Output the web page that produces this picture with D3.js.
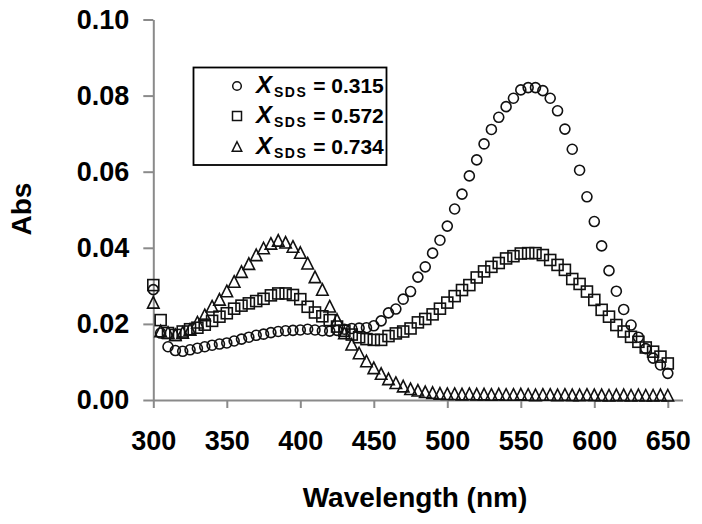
<!DOCTYPE html>
<html><head><meta charset="utf-8">
<script src="https://cdn.jsdelivr.net/npm/d3@7"></script>
<style>body{margin:0;background:#fff}svg{display:block}</style>
</head><body>
<script>
const wavelengths = [300,305,310,315,320,325,330,335,340,345,350,355,360,365,370,375,380,385,390,395,400,405,410,415,420,425,430,435,440,445,450,455,460,465,470,475,480,485,490,495,500,505,510,515,520,525,530,535,540,545,550,555,560,565,570,575,580,585,590,595,600,605,610,615,620,625,630,635,640,645,650];
const seriesLabels = ["0.315","0.572","0.734"];
const abs315 = [0.0290,0.0176,0.0140,0.0130,0.0128,0.0132,0.0136,0.0140,0.0144,0.0147,0.0150,0.0155,0.0160,0.0165,0.0170,0.0173,0.0177,0.0180,0.0182,0.0183,0.0184,0.0186,0.0184,0.0182,0.0181,0.0183,0.0186,0.0188,0.0189,0.0190,0.0195,0.0208,0.0229,0.0239,0.0265,0.0285,0.0323,0.0350,0.0386,0.0420,0.0457,0.0502,0.0541,0.0589,0.0631,0.0673,0.0711,0.0743,0.0771,0.0793,0.0815,0.0821,0.0821,0.0813,0.0793,0.0760,0.0712,0.0659,0.0604,0.0534,0.0469,0.0405,0.0340,0.0286,0.0238,0.0197,0.0165,0.0135,0.0110,0.0092,0.0070];
const abs572 = [0.0302,0.0210,0.0176,0.0171,0.0180,0.0186,0.0190,0.0198,0.0208,0.0219,0.0228,0.0240,0.0248,0.0254,0.0260,0.0266,0.0275,0.0280,0.0280,0.0276,0.0265,0.0245,0.0230,0.0220,0.0210,0.0193,0.0182,0.0172,0.0165,0.0160,0.0158,0.0158,0.0168,0.0175,0.0180,0.0188,0.0204,0.0213,0.0225,0.0240,0.0256,0.0273,0.0289,0.0302,0.0322,0.0338,0.0350,0.0360,0.0372,0.0378,0.0385,0.0386,0.0386,0.0381,0.0368,0.0355,0.0342,0.0318,0.0305,0.0285,0.0263,0.0237,0.0219,0.0197,0.0180,0.0166,0.0153,0.0138,0.0127,0.0114,0.0096];
const abs734 = [0.0255,0.0180,0.0176,0.0170,0.0176,0.0184,0.0203,0.0222,0.0245,0.0263,0.0285,0.0310,0.0336,0.0357,0.0380,0.0398,0.0410,0.0418,0.0413,0.0402,0.0386,0.0358,0.0322,0.0289,0.0245,0.0210,0.0175,0.0145,0.0122,0.0101,0.0083,0.0068,0.0054,0.0044,0.0035,0.0028,0.0024,0.0020,0.0018,0.0016,0.0015,0.0015,0.0014,0.0015,0.0014,0.0014,0.0013,0.0014,0.0013,0.0013,0.0014,0.0013,0.0012,0.0013,0.0013,0.0012,0.0013,0.0012,0.0012,0.0013,0.0012,0.0012,0.0011,0.0012,0.0012,0.0011,0.0012,0.0011,0.0011,0.0012,0.0011];
const xTicks = [300,350,400,450,500,550,600,650];
const yTicks = [0,0.02,0.04,0.06,0.08,0.10];

const W = 702, H = 524;
const svg = d3.select("body").append("svg").attr("width", W).attr("height", H);
const font = "'Liberation Sans', Arial, sans-serif";
const x = d3.scaleLinear().domain([300, 660]).range([153.3, 682.5]);
const y = d3.scaleLinear().domain([0, 0.1]).range([400, 19.5]);
const axisColor = "#8a8a8a";

// x axis
const gx = svg.append("g").attr("transform", `translate(0,${y(0)})`)
  .call(d3.axisBottom(x).tickValues(xTicks).tickSize(8).tickSizeOuter(0).tickFormat(d3.format("d")).tickPadding(23));
gx.select(".domain").attr("stroke", axisColor).attr("stroke-width", 2);
gx.selectAll(".tick line").attr("stroke", axisColor).attr("stroke-width", 2);
gx.selectAll(".tick text").attr("font-family", font).attr("font-weight", "bold").attr("font-size", 27).attr("fill", "#000");

// y axis
const gy = svg.append("g").attr("transform", `translate(${x(300)},0)`)
  .call(d3.axisLeft(y).tickValues(yTicks).tickSize(10).tickSizeOuter(0).tickFormat(d3.format(".2f")).tickPadding(14));
gy.select(".domain").attr("stroke", axisColor).attr("stroke-width", 2);
gy.selectAll(".tick line").attr("stroke", axisColor).attr("stroke-width", 2);
gy.selectAll(".tick text").attr("font-family", font).attr("font-weight", "bold").attr("font-size", 27).attr("fill", "#000");

// axis titles
svg.append("text").attr("x", 415).attr("y", 507).attr("text-anchor", "middle")
  .attr("font-family", font).attr("font-weight", "bold").attr("font-size", 28).text("Wavelength (nm)");
svg.append("text").attr("transform", "translate(31,209) rotate(-90)").attr("text-anchor", "middle")
  .attr("font-family", font).attr("font-weight", "bold").attr("font-size", 28).text("Abs");

const mk = "#111";
const sw = 1.6;
const plot = svg.append("g");
const pts = (vals) => wavelengths.map((w, i) => ({w, v: vals[i]}));
// circles
plot.selectAll("circle.s1").data(pts(abs315)).join("circle").attr("class","s1")
  .attr("cx", d => x(d.w)).attr("cy", d => y(d.v)).attr("r", 5)
  .attr("fill", "none").attr("stroke", mk).attr("stroke-width", sw);
// squares
const sq = 11;
plot.selectAll("rect.s2").data(pts(abs572)).join("rect").attr("class","s2")
  .attr("x", d => x(d.w) - sq/2).attr("y", d => y(d.v) - sq/2).attr("width", sq).attr("height", sq)
  .attr("fill", "none").attr("stroke", mk).attr("stroke-width", sw);
// triangles
const tri = (cx, cy, s) => `M${cx},${cy - s*0.55}L${cx + s/2},${cy + s*0.45}L${cx - s/2},${cy + s*0.45}Z`;
plot.selectAll("path.s3").data(pts(abs734)).join("path").attr("class","s3")
  .attr("d", d => tri(x(d.w), y(d.v), 11.5))
  .attr("fill", "none").attr("stroke", mk).attr("stroke-width", sw);

// legend
const lg = svg.append("g");
lg.append("rect").attr("x", 193.5).attr("y", 67.5).attr("width", 193).attr("height", 97.5)
  .attr("fill", "#fff").attr("stroke", "#000").attr("stroke-width", 1.8);
const rowsY = [86, 116, 147];
const mx = 237;
lg.append("circle").attr("cx", mx).attr("cy", rowsY[0]).attr("r", 4.3).attr("fill","none").attr("stroke", mk).attr("stroke-width", 1.5);
lg.append("rect").attr("x", mx-4.5).attr("y", rowsY[1]-4.5).attr("width", 9).attr("height", 9).attr("fill","none").attr("stroke", mk).attr("stroke-width", 1.5);
lg.append("path").attr("d", tri(mx, rowsY[2], 9.5)).attr("fill","none").attr("stroke", mk).attr("stroke-width", 1.5);
seriesLabels.forEach((lab, i) => {
  const t = lg.append("text").attr("x", 256).attr("y", rowsY[i] + 7)
    .attr("font-family", font).attr("font-weight", "bold").attr("font-size", 21).attr("fill", "#000");
  t.append("tspan").attr("font-style", "italic").attr("font-size", 24).text("X");
  t.append("tspan").attr("font-size", 14).attr("dy", 4).attr("dx", 2).attr("letter-spacing", 1.5).text("SDS");
  t.append("tspan").attr("dy", -4).text(" = " + lab);
});
</script>
</body></html>
